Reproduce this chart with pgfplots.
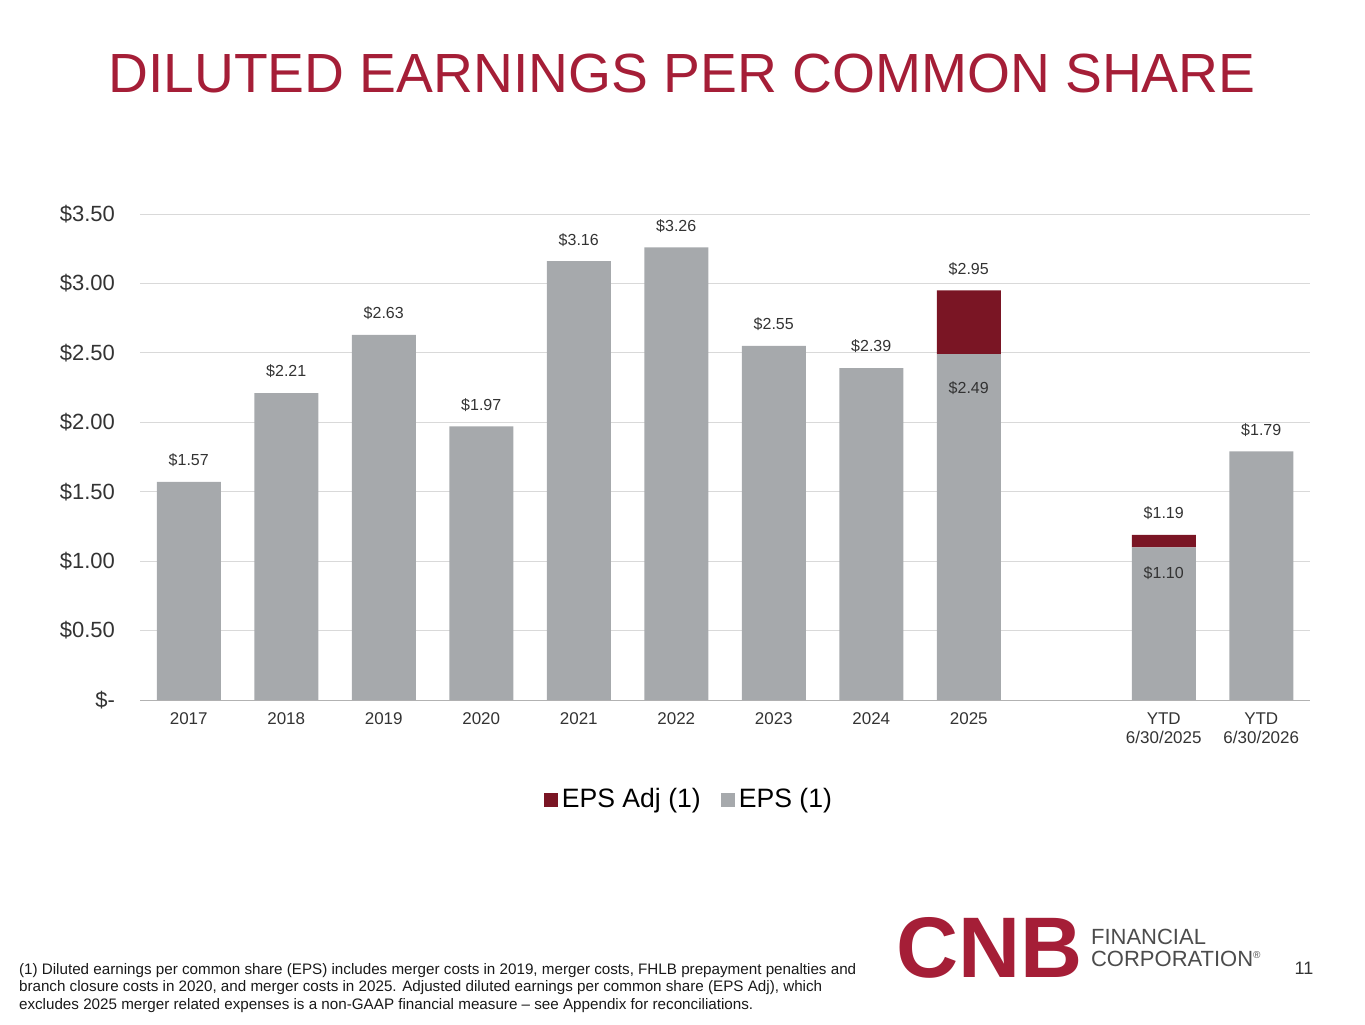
\documentclass[border=0pt]{standalone}
\usepackage{pgfplots}
\pgfplotsset{compat=1.18}
\usepackage{fontspec}
\setmainfont{Liberation Sans}
\definecolor{cnbred}{RGB}{165,30,55}
\definecolor{adjred}{RGB}{122,21,36}
\definecolor{epsgray}{RGB}{166,169,172}
\begin{document}
\begin{tikzpicture}[x=1pt,y=1pt]
\path[use as bounding box] (0,0) rectangle (682.5,512);
\node[text=cnbred,font=\fontsize{27.6}{30}\selectfont] at (341,475) {DILUTED EARNINGS PER COMMON SHARE};
\begin{axis}[at={(70pt,162pt)},anchor=south west,scale only axis,width=585pt,height=243pt,
  ybar stacked,bar width=32pt,xmin=-0.5,xmax=11.5,ymin=0,ymax=3.5,
  ytick={0,0.5,1,1.5,2,2.5,3,3.5},
  yticklabels={\$-,\$0.50,\$1.00,\$1.50,\$2.00,\$2.50,\$3.00,\$3.50},
  xtick={0,1,2,3,4,5,6,7,8,10,11},
  xticklabels={2017,2018,2019,2020,2021,2022,2023,2024,2025,{YTD\\6/30/2025},{YTD\\6/30/2026}},
  xticklabel style={align=center,font=\fontsize{8.5}{9.5}\selectfont,text=black!80,yshift=-3pt},
  yticklabel style={font=\fontsize{11}{12}\selectfont,text=black!80,xshift=-9pt},
  major tick length=0pt,axis line style={draw=none},
  ymajorgrids,grid style={black!15},
  extra y ticks={0},extra y tick labels={},extra y tick style={grid style={black!30}},
  legend style={at={(0.47,-0.205)},anchor=center,draw=none,legend columns=2,font=\fontsize{13.3}{15}\selectfont,/tikz/every even column/.append style={column sep=8pt}},
  legend image code/.code={\fill[#1] (0,-3.5pt) rectangle (7pt,3.5pt);},
  reverse legend]
\addplot[fill=epsgray,draw=none] coordinates {(0,1.57)(1,2.21)(2,2.63)(3,1.97)(4,3.16)(5,3.26)(6,2.55)(7,2.39)(8,2.49)(10,1.10)(11,1.79)};
\addplot[fill=adjred,draw=none] coordinates {(0,0)(1,0)(2,0)(3,0)(4,0)(5,0)(6,0)(7,0)(8,0.46)(10,0.09)(11,0)};
\legend{EPS (1),EPS Adj (1)}
\foreach \x/\v in {0/1.57,1/2.21,2/2.63,3/1.97,4/3.16,5/3.26,6/2.55,7/2.39,8/2.95,10/1.19,11/1.79}
  {\edef\tmp{\noexpand\node[above,font=\noexpand\fontsize{8}{9}\noexpand\selectfont,text=black!80,yshift=4pt] at (axis cs:\x,\v) {\noexpand\$\v};}\tmp}
\coordinate (a) at (axis cs:8,2.49);
\coordinate (b) at (axis cs:10,1.10);
\end{axis}
\node[below,font=\fontsize{8}{9}\selectfont,text=black!80,yshift=-10pt] at (a) {\$2.49};
\node[below,font=\fontsize{8}{9}\selectfont,text=black!80,yshift=-6pt] at (b) {\$1.10};
\node[anchor=west,align=left,font=\fontsize{7.6}{8.7}\selectfont,text=black!90] at (6,18) {(1) Diluted earnings per common share (EPS) includes merger costs in 2019, merger costs, FHLB prepayment penalties and\\branch closure costs in 2020, and merger costs in 2025. Adjusted diluted earnings per common share (EPS Adj), which\\excludes 2025 merger related expenses is a non-GAAP financial measure -- see Appendix for reconciliations.};
\node[anchor=west,text=cnbred,font=\fontsize{43}{43}\selectfont\bfseries,inner sep=0pt] at (448,38) {CNB};
\node[anchor=west,align=left,text=black!70,font=\fontsize{11}{11}\selectfont] at (542,38) {FINANCIAL\\CORPORATION\textsuperscript{\tiny\textregistered}};
\node[font=\fontsize{9}{10}\selectfont,text=black!80] at (652,28) {11};
\end{tikzpicture}
\end{document}
